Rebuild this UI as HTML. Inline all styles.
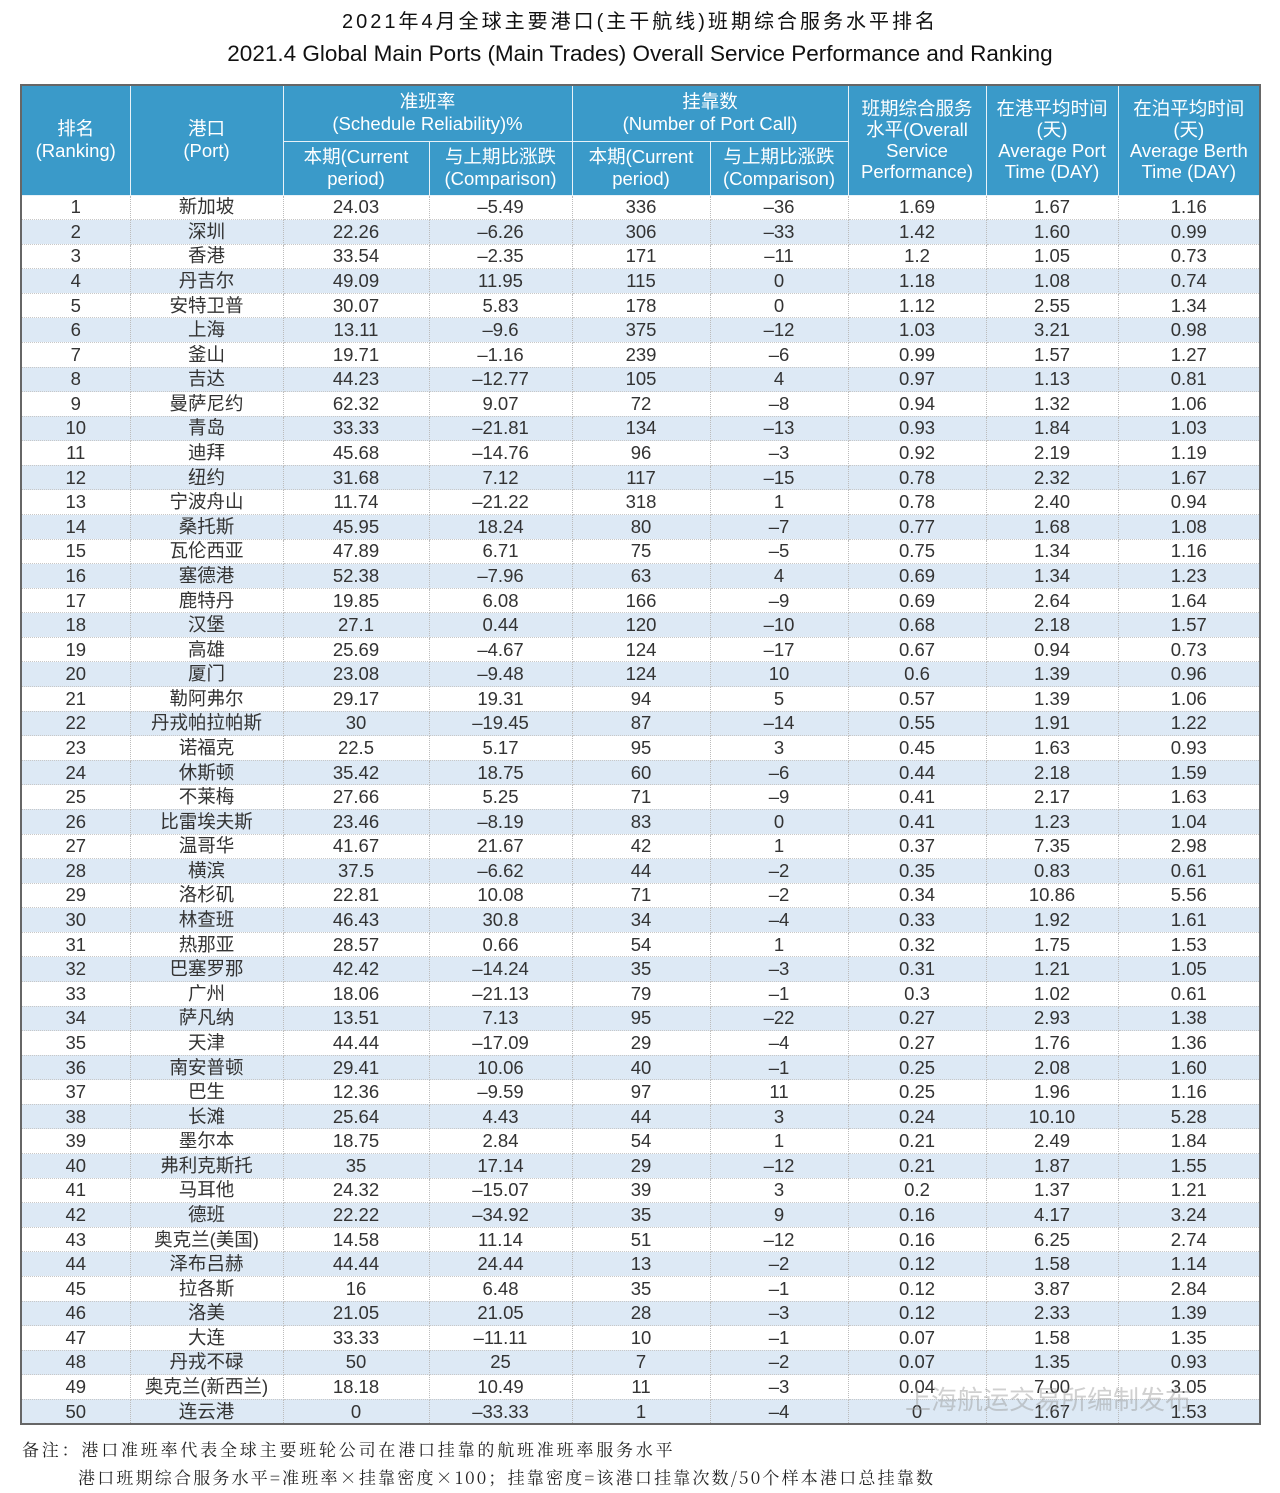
<!DOCTYPE html>
<html><head><meta charset="utf-8"><style>
body{margin:0;width:1280px;height:1493px;background:#fff;font-family:"Liberation Sans","Noto Sans CJK SC",sans-serif;color:#2a2a2a;position:relative;overflow:hidden}
.t1{position:absolute;top:5px;left:0;width:1280px;text-align:center;font-size:20px;letter-spacing:3px;color:#111}
.t2{position:absolute;top:41px;left:0;width:1280px;text-align:center;font-size:22.5px;color:#111}
table{position:absolute;left:20px;top:84px;width:1239px;border-collapse:collapse;table-layout:fixed;border:2px solid #666}
th{background:#3a9ac9;color:#fff;font-weight:normal;font-size:18.5px;line-height:22px;border:1px solid #e8f2f8;padding:0}
td{height:23.58px;padding:0;text-align:center;font-size:18.5px;line-height:18px;color:#333;border-left:1px dotted #bbb;border-right:1px dotted #bbb;border-bottom:1px dotted #c8c8c8}
tbody tr:nth-child(even) td{background:#dde9f5}
.note{position:absolute;left:22px;font-family:"Noto Serif CJK SC","Liberation Serif",serif;font-size:17px;letter-spacing:2.8px;color:#222}
.wm{position:absolute;left:905px;top:1380px;font-size:26px;color:rgba(150,150,150,.45)}
</style></head><body>
<div class="t1">2021年4月全球主要港口(主干航线)班期综合服务水平排名</div>
<div class="t2">2021.4 Global Main Ports (Main Trades) Overall Service Performance and Ranking</div>
<table>
<colgroup><col style="width:109px"><col style="width:153px"><col style="width:146px"><col style="width:143px"><col style="width:138px"><col style="width:138px"><col style="width:138px"><col style="width:132px"><col style="width:142px"></colgroup>
<thead>
<tr style="height:56px"><th rowspan="2">排名<br>(Ranking)</th><th rowspan="2">港口<br>(Port)</th><th colspan="2">准班率<br>(Schedule Reliability)%</th><th colspan="2">挂靠数<br>(Number of Port Call)</th><th rowspan="2" style="line-height:21px">班期综合服务<br>水平(Overall<br>Service<br>Performance)</th><th rowspan="2" style="line-height:21px">在港平均时间<br>(天)<br>Average Port<br>Time (DAY)</th><th rowspan="2" style="line-height:21px">在泊平均时间<br>(天)<br>Average Berth<br>Time (DAY)</th></tr>
<tr style="height:54px"><th>本期(Current<br>period)</th><th>与上期比涨跌<br>(Comparison)</th><th>本期(Current<br>period)</th><th>与上期比涨跌<br>(Comparison)</th></tr>
</thead>
<tbody>
<tr><td>1</td><td>新加坡</td><td>24.03</td><td>–5.49</td><td>336</td><td>–36</td><td>1.69</td><td>1.67</td><td>1.16</td></tr>
<tr><td>2</td><td>深圳</td><td>22.26</td><td>–6.26</td><td>306</td><td>–33</td><td>1.42</td><td>1.60</td><td>0.99</td></tr>
<tr><td>3</td><td>香港</td><td>33.54</td><td>–2.35</td><td>171</td><td>–11</td><td>1.2</td><td>1.05</td><td>0.73</td></tr>
<tr><td>4</td><td>丹吉尔</td><td>49.09</td><td>11.95</td><td>115</td><td>0</td><td>1.18</td><td>1.08</td><td>0.74</td></tr>
<tr><td>5</td><td>安特卫普</td><td>30.07</td><td>5.83</td><td>178</td><td>0</td><td>1.12</td><td>2.55</td><td>1.34</td></tr>
<tr><td>6</td><td>上海</td><td>13.11</td><td>–9.6</td><td>375</td><td>–12</td><td>1.03</td><td>3.21</td><td>0.98</td></tr>
<tr><td>7</td><td>釜山</td><td>19.71</td><td>–1.16</td><td>239</td><td>–6</td><td>0.99</td><td>1.57</td><td>1.27</td></tr>
<tr><td>8</td><td>吉达</td><td>44.23</td><td>–12.77</td><td>105</td><td>4</td><td>0.97</td><td>1.13</td><td>0.81</td></tr>
<tr><td>9</td><td>曼萨尼约</td><td>62.32</td><td>9.07</td><td>72</td><td>–8</td><td>0.94</td><td>1.32</td><td>1.06</td></tr>
<tr><td>10</td><td>青岛</td><td>33.33</td><td>–21.81</td><td>134</td><td>–13</td><td>0.93</td><td>1.84</td><td>1.03</td></tr>
<tr><td>11</td><td>迪拜</td><td>45.68</td><td>–14.76</td><td>96</td><td>–3</td><td>0.92</td><td>2.19</td><td>1.19</td></tr>
<tr><td>12</td><td>纽约</td><td>31.68</td><td>7.12</td><td>117</td><td>–15</td><td>0.78</td><td>2.32</td><td>1.67</td></tr>
<tr><td>13</td><td>宁波舟山</td><td>11.74</td><td>–21.22</td><td>318</td><td>1</td><td>0.78</td><td>2.40</td><td>0.94</td></tr>
<tr><td>14</td><td>桑托斯</td><td>45.95</td><td>18.24</td><td>80</td><td>–7</td><td>0.77</td><td>1.68</td><td>1.08</td></tr>
<tr><td>15</td><td>瓦伦西亚</td><td>47.89</td><td>6.71</td><td>75</td><td>–5</td><td>0.75</td><td>1.34</td><td>1.16</td></tr>
<tr><td>16</td><td>塞德港</td><td>52.38</td><td>–7.96</td><td>63</td><td>4</td><td>0.69</td><td>1.34</td><td>1.23</td></tr>
<tr><td>17</td><td>鹿特丹</td><td>19.85</td><td>6.08</td><td>166</td><td>–9</td><td>0.69</td><td>2.64</td><td>1.64</td></tr>
<tr><td>18</td><td>汉堡</td><td>27.1</td><td>0.44</td><td>120</td><td>–10</td><td>0.68</td><td>2.18</td><td>1.57</td></tr>
<tr><td>19</td><td>高雄</td><td>25.69</td><td>–4.67</td><td>124</td><td>–17</td><td>0.67</td><td>0.94</td><td>0.73</td></tr>
<tr><td>20</td><td>厦门</td><td>23.08</td><td>–9.48</td><td>124</td><td>10</td><td>0.6</td><td>1.39</td><td>0.96</td></tr>
<tr><td>21</td><td>勒阿弗尔</td><td>29.17</td><td>19.31</td><td>94</td><td>5</td><td>0.57</td><td>1.39</td><td>1.06</td></tr>
<tr><td>22</td><td>丹戎帕拉帕斯</td><td>30</td><td>–19.45</td><td>87</td><td>–14</td><td>0.55</td><td>1.91</td><td>1.22</td></tr>
<tr><td>23</td><td>诺福克</td><td>22.5</td><td>5.17</td><td>95</td><td>3</td><td>0.45</td><td>1.63</td><td>0.93</td></tr>
<tr><td>24</td><td>休斯顿</td><td>35.42</td><td>18.75</td><td>60</td><td>–6</td><td>0.44</td><td>2.18</td><td>1.59</td></tr>
<tr><td>25</td><td>不莱梅</td><td>27.66</td><td>5.25</td><td>71</td><td>–9</td><td>0.41</td><td>2.17</td><td>1.63</td></tr>
<tr><td>26</td><td>比雷埃夫斯</td><td>23.46</td><td>–8.19</td><td>83</td><td>0</td><td>0.41</td><td>1.23</td><td>1.04</td></tr>
<tr><td>27</td><td>温哥华</td><td>41.67</td><td>21.67</td><td>42</td><td>1</td><td>0.37</td><td>7.35</td><td>2.98</td></tr>
<tr><td>28</td><td>横滨</td><td>37.5</td><td>–6.62</td><td>44</td><td>–2</td><td>0.35</td><td>0.83</td><td>0.61</td></tr>
<tr><td>29</td><td>洛杉矶</td><td>22.81</td><td>10.08</td><td>71</td><td>–2</td><td>0.34</td><td>10.86</td><td>5.56</td></tr>
<tr><td>30</td><td>林查班</td><td>46.43</td><td>30.8</td><td>34</td><td>–4</td><td>0.33</td><td>1.92</td><td>1.61</td></tr>
<tr><td>31</td><td>热那亚</td><td>28.57</td><td>0.66</td><td>54</td><td>1</td><td>0.32</td><td>1.75</td><td>1.53</td></tr>
<tr><td>32</td><td>巴塞罗那</td><td>42.42</td><td>–14.24</td><td>35</td><td>–3</td><td>0.31</td><td>1.21</td><td>1.05</td></tr>
<tr><td>33</td><td>广州</td><td>18.06</td><td>–21.13</td><td>79</td><td>–1</td><td>0.3</td><td>1.02</td><td>0.61</td></tr>
<tr><td>34</td><td>萨凡纳</td><td>13.51</td><td>7.13</td><td>95</td><td>–22</td><td>0.27</td><td>2.93</td><td>1.38</td></tr>
<tr><td>35</td><td>天津</td><td>44.44</td><td>–17.09</td><td>29</td><td>–4</td><td>0.27</td><td>1.76</td><td>1.36</td></tr>
<tr><td>36</td><td>南安普顿</td><td>29.41</td><td>10.06</td><td>40</td><td>–1</td><td>0.25</td><td>2.08</td><td>1.60</td></tr>
<tr><td>37</td><td>巴生</td><td>12.36</td><td>–9.59</td><td>97</td><td>11</td><td>0.25</td><td>1.96</td><td>1.16</td></tr>
<tr><td>38</td><td>长滩</td><td>25.64</td><td>4.43</td><td>44</td><td>3</td><td>0.24</td><td>10.10</td><td>5.28</td></tr>
<tr><td>39</td><td>墨尔本</td><td>18.75</td><td>2.84</td><td>54</td><td>1</td><td>0.21</td><td>2.49</td><td>1.84</td></tr>
<tr><td>40</td><td>弗利克斯托</td><td>35</td><td>17.14</td><td>29</td><td>–12</td><td>0.21</td><td>1.87</td><td>1.55</td></tr>
<tr><td>41</td><td>马耳他</td><td>24.32</td><td>–15.07</td><td>39</td><td>3</td><td>0.2</td><td>1.37</td><td>1.21</td></tr>
<tr><td>42</td><td>德班</td><td>22.22</td><td>–34.92</td><td>35</td><td>9</td><td>0.16</td><td>4.17</td><td>3.24</td></tr>
<tr><td>43</td><td>奥克兰(美国)</td><td>14.58</td><td>11.14</td><td>51</td><td>–12</td><td>0.16</td><td>6.25</td><td>2.74</td></tr>
<tr><td>44</td><td>泽布吕赫</td><td>44.44</td><td>24.44</td><td>13</td><td>–2</td><td>0.12</td><td>1.58</td><td>1.14</td></tr>
<tr><td>45</td><td>拉各斯</td><td>16</td><td>6.48</td><td>35</td><td>–1</td><td>0.12</td><td>3.87</td><td>2.84</td></tr>
<tr><td>46</td><td>洛美</td><td>21.05</td><td>21.05</td><td>28</td><td>–3</td><td>0.12</td><td>2.33</td><td>1.39</td></tr>
<tr><td>47</td><td>大连</td><td>33.33</td><td>–11.11</td><td>10</td><td>–1</td><td>0.07</td><td>1.58</td><td>1.35</td></tr>
<tr><td>48</td><td>丹戎不碌</td><td>50</td><td>25</td><td>7</td><td>–2</td><td>0.07</td><td>1.35</td><td>0.93</td></tr>
<tr><td>49</td><td>奥克兰(新西兰)</td><td>18.18</td><td>10.49</td><td>11</td><td>–3</td><td>0.04</td><td>7.00</td><td>3.05</td></tr>
<tr><td>50</td><td>连云港</td><td>0</td><td>–33.33</td><td>1</td><td>–4</td><td>0</td><td>1.67</td><td>1.53</td></tr>
</tbody></table>
<div class="wm">上海航运交易所编制发布</div>
<div class="note" style="top:1436px">备注：港口准班率代表全球主要班轮公司在港口挂靠的航班准班率服务水平</div>
<div class="note" style="top:1464px;left:78px;letter-spacing:2.2px">港口班期综合服务水平=准班率×挂靠密度×100；挂靠密度=该港口挂靠次数/50个样本港口总挂靠数</div>
</body></html>
